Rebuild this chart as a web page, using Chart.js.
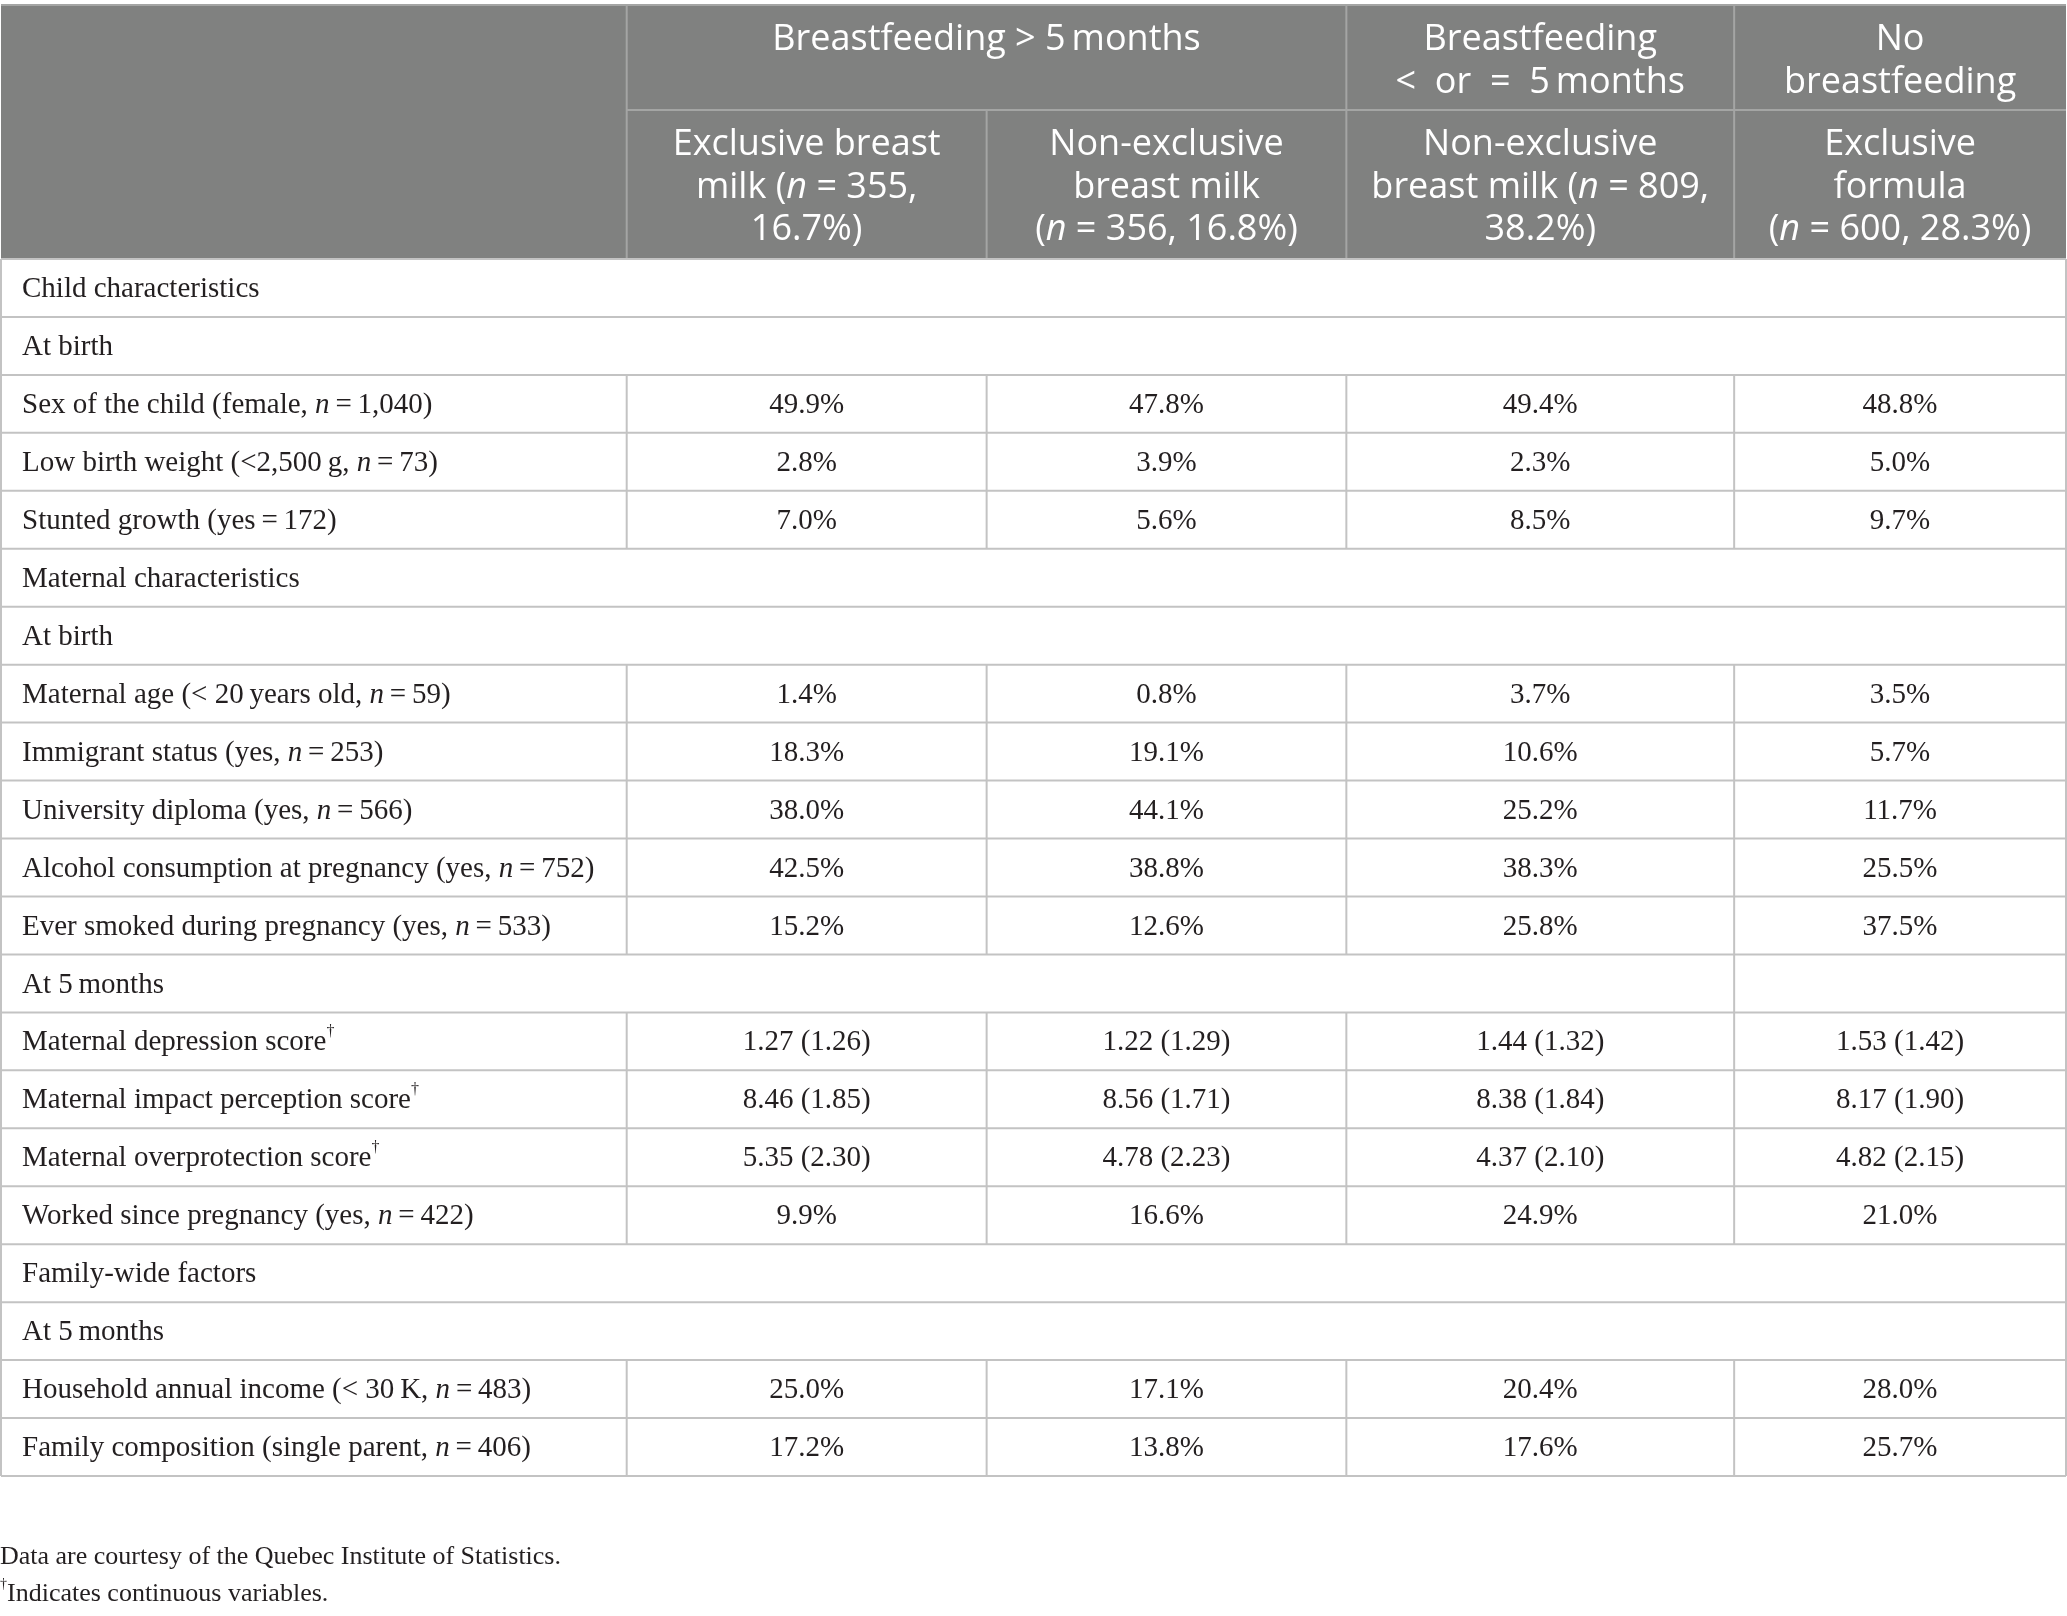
<!DOCTYPE html>
<html>
<head>
<meta charset="utf-8">
<title>Breastfeeding groups - characteristics</title>
<script src="https://cdn.jsdelivr.net/npm/chart.js@4.4.1/dist/chart.umd.min.js"></script>
<style>
  html, body { margin: 0; padding: 0; background: #ffffff; }
  #wrap { width: 2067px; height: 1616px; }
</style>
</head>
<body>
<div id="wrap"><canvas id="table" width="2067" height="1616"></canvas></div>
<script>
// header labels
const groupHeaders = ['Breastfeeding > 5\u2009months', 'Breastfeeding\n<  or  =  5\u2009months', 'No\nbreastfeeding'];
const groupSpans = [2, 1, 1];
const columnHeaders = [
  'Exclusive breast\nmilk (<i>n</i> = 355,\n16.7%)',
  'Non-exclusive\nbreast milk\n(<i>n</i> = 356, 16.8%)',
  'Non-exclusive\nbreast milk (<i>n</i> = 809,\n38.2%)',
  'Exclusive\nformula\n(<i>n</i> = 600, 28.3%)'
];

// row labels (categories)
const rowLabels = [
  'Child characteristics',
  'At birth',
  'Sex of the child (female, <i>n</i>\u2009=\u20091,040)',
  'Low birth weight (<2,500\u2009g, <i>n</i>\u2009=\u200973)',
  'Stunted growth (yes\u2009=\u2009172)',
  'Maternal characteristics',
  'At birth',
  'Maternal age (< 20\u2009years old, <i>n</i>\u2009=\u200959)',
  'Immigrant status (yes, <i>n</i>\u2009=\u2009253)',
  'University diploma (yes, <i>n</i>\u2009=\u2009566)',
  'Alcohol consumption at pregnancy (yes, <i>n</i>\u2009=\u2009752)',
  'Ever smoked during pregnancy (yes, <i>n</i>\u2009=\u2009533)',
  'At 5\u2009months',
  'Maternal depression score<sup>\u2020</sup>',
  'Maternal impact perception score<sup>\u2020</sup>',
  'Maternal overprotection score<sup>\u2020</sup>',
  'Worked since pregnancy (yes, <i>n</i>\u2009=\u2009422)',
  'Family-wide factors',
  'At 5\u2009months',
  'Household annual income (< 30\u2009K, <i>n</i>\u2009=\u2009483)',
  'Family composition (single parent, <i>n</i>\u2009=\u2009406)'
];
// how many columns the label cell covers
const labelSpan = [5, 5, 1, 1, 1, 5, 5, 1, 1, 1, 1, 1, 4, 1, 1, 1, 1, 5, 5, 1, 1];

// series values: percentages, or [mean, sd] for scores
const exclusiveOver5 = [null, null, 49.9, 2.8, 7.0, null, null, 1.4, 18.3, 38.0, 42.5, 15.2, null,
  [1.27, 1.26], [8.46, 1.85], [5.35, 2.30], 9.9, null, null, 25.0, 17.2];
const nonExclusiveOver5 = [null, null, 47.8, 3.9, 5.6, null, null, 0.8, 19.1, 44.1, 38.8, 12.6, null,
  [1.22, 1.29], [8.56, 1.71], [4.78, 2.23], 16.6, null, null, 17.1, 13.8];
const nonExclusiveUpTo5 = [null, null, 49.4, 2.3, 8.5, null, null, 3.7, 10.6, 25.2, 38.3, 25.8, null,
  [1.44, 1.32], [8.38, 1.84], [4.37, 2.10], 24.9, null, null, 20.4, 17.6];
const exclusiveFormula = [null, null, 48.8, 5.0, 9.7, null, null, 3.5, 5.7, 11.7, 25.5, 37.5, null,
  [1.53, 1.42], [8.17, 1.90], [4.82, 2.15], 21.0, null, null, 28.0, 25.7];
const seriesList = [exclusiveOver5, nonExclusiveOver5, nonExclusiveUpTo5, exclusiveFormula];

const footnotes = ['Data are courtesy of the Quebec Institute of Statistics.', '<sup>\u2020</sup>Indicates continuous variables.'];

// layout
const colEdges = [0, 0.303, 0.4773, 0.6515, 0.8393, 1];
const headRow1 = 1.83;
const headRow2 = 2.57;
const bodyTop = headRow1 + headRow2;
const totalRows = bodyTop + rowLabels.length;

const sansFamily = '"Open Sans", "Noto Sans", sans-serif';
const serifFamily = '"Liberation Serif", "DejaVu Serif", serif';
const headerFill = '#808180';
const headerLine = '#a4a5a4';
const gridLine = '#c3c3c3';
const textColor = '#231f20';

function formatValue(v) {
  if (Array.isArray(v)) return v[0].toFixed(2) + ' (' + v[1].toFixed(2) + ')';
  return v.toFixed(1) + '%';
}

function parseRich(str) {
  return str.split(/(<i>.*?<\/i>|<sup>.*?<\/sup>)/).filter(s => s.length).map(p => {
    if (p.startsWith('<i>')) return { t: p.slice(3, -4), style: 'i' };
    if (p.startsWith('<sup>')) return { t: p.slice(5, -6), style: 'sup' };
    return { t: p, style: 'n' };
  });
}

function fontFor(style, size, family) {
  if (style === 'i') return 'italic ' + size + 'px ' + family;
  if (style === 'sup') return Math.round(size * 0.55) + 'px ' + family;
  return size + 'px ' + family;
}

function drawRich(ctx, str, x, y, align, size, family, color) {
  const segs = parseRich(str);
  let total = 0;
  segs.forEach(s => {
    ctx.font = fontFor(s.style, size, family);
    s.w = ctx.measureText(s.t).width;
    total += s.w;
  });
  let cx = align === 'center' ? x - total / 2 : x;
  ctx.fillStyle = color;
  ctx.textAlign = 'left';
  ctx.textBaseline = 'middle';
  segs.forEach(s => {
    ctx.font = fontFor(s.style, size, family);
    const dy = s.style === 'sup' ? -size * 0.38 : 0;
    ctx.fillText(s.t, cx, y + dy);
    cx += s.w;
  });
}

function line(ctx, x1, y1, x2, y2, color) {
  ctx.strokeStyle = color;
  ctx.lineWidth = 2;
  ctx.beginPath();
  ctx.moveTo(x1, y1);
  ctx.lineTo(x2, y2);
  ctx.stroke();
}

const tablePlugin = {
  id: 'tablePlugin',
  beforeDatasetsDraw(chart) {
    const ctx = chart.ctx;
    const xs = chart.scales.x, ys = chart.scales.y;
    const X = v => xs.getPixelForValue(v);
    const Y = v => ys.getPixelForValue(v);
    ctx.save();
    // header block
    ctx.fillStyle = headerFill;
    ctx.fillRect(X(0), Y(0), X(1) - X(0), Y(bodyTop) - Y(0));
    line(ctx, X(0), Y(0) + 1, X(1), Y(0) + 1, headerLine);
    line(ctx, X(colEdges[1]), Y(headRow1), X(1), Y(headRow1), headerLine);
    line(ctx, X(colEdges[1]), Y(0), X(colEdges[1]), Y(bodyTop), headerLine);
    line(ctx, X(colEdges[2]), Y(headRow1), X(colEdges[2]), Y(bodyTop), headerLine);
    line(ctx, X(colEdges[3]), Y(0), X(colEdges[3]), Y(bodyTop), headerLine);
    line(ctx, X(colEdges[4]), Y(0), X(colEdges[4]), Y(bodyTop), headerLine);
    // body grid
    for (let r = 0; r <= rowLabels.length; r++) {
      line(ctx, X(0), Y(bodyTop + r), X(1), Y(bodyTop + r), gridLine);
    }
    line(ctx, X(0), Y(bodyTop), X(0), Y(totalRows), gridLine);
    line(ctx, X(1), Y(bodyTop), X(1), Y(totalRows), gridLine);
    rowLabels.forEach((lab, r) => {
      const span = labelSpan[r];
      for (let c = span; c < 5; c++) {
        line(ctx, X(colEdges[c]), Y(bodyTop + r), X(colEdges[c]), Y(bodyTop + r + 1), gridLine);
      }
    });
    ctx.restore();
  },
  afterDatasetsDraw(chart) {
    const ctx = chart.ctx;
    const xs = chart.scales.x, ys = chart.scales.y;
    const X = v => xs.getPixelForValue(v);
    const Y = v => ys.getPixelForValue(v);
    ctx.save();
    // header row 1: group labels, top aligned
    let c = 1;
    groupHeaders.forEach((g, i) => {
      const cx = (X(colEdges[c]) + X(colEdges[c + groupSpans[i]])) / 2;
      g.split('\n').forEach((ln, k) => {
        drawRich(ctx, ln, cx, Y(0) + 36 + k * 42.5, 'center', 36, sansFamily, '#ffffff');
      });
      c += groupSpans[i];
    });
    // header row 2: column labels, centered
    columnHeaders.forEach((h, i) => {
      const cx = (X(colEdges[i + 1]) + X(colEdges[i + 2])) / 2;
      const cy = (Y(headRow1) + Y(bodyTop)) / 2 + 3;
      const lines = h.split('\n');
      lines.forEach((ln, k) => {
        drawRich(ctx, ln, cx, cy + (k - (lines.length - 1) / 2) * 42.5, 'center', 36, sansFamily, '#ffffff');
      });
    });
    // row labels
    rowLabels.forEach((lab, r) => {
      drawRich(ctx, lab, X(0) + 21, Y(bodyTop + r + 0.5) + 1.5, 'left', 29, serifFamily, textColor);
    });
    // values at the dataset points
    chart.data.datasets.forEach((ds, i) => {
      const meta = chart.getDatasetMeta(i);
      meta.data.forEach((pt, k) => {
        drawRich(ctx, ds.data[k].label, pt.x, pt.y + 1.5, 'center', 29, serifFamily, textColor);
      });
    });
    // footnotes
    footnotes.forEach((f, k) => {
      drawRich(ctx, f, 0, Y(totalRows) + 81 + k * 37, 'left', 26, serifFamily, textColor);
    });
    ctx.restore();
  }
};

const datasets = seriesList.map((vals, i) => ({
  label: columnHeaders[i],
  data: vals.map((v, r) => v === null ? null : {
    x: (colEdges[i + 1] + colEdges[i + 2]) / 2,
    y: bodyTop + r + 0.5,
    label: formatValue(v)
  }).filter(p => p !== null),
  pointRadius: 0,
  showLine: false
}));

new Chart(document.getElementById('table'), {
  type: 'scatter',
  data: { datasets: datasets },
  options: {
    responsive: false,
    animation: false,
    devicePixelRatio: 1,
    layout: { padding: { top: 4, left: 1, right: 1, bottom: 140 } },
    plugins: { legend: { display: false }, tooltip: { enabled: false } },
    scales: {
      x: { type: 'linear', display: false, min: 0, max: 1 },
      y: { type: 'linear', display: false, min: 0, max: totalRows, reverse: true }
    }
  },
  plugins: [tablePlugin]
});
</script>
</body>
</html>
